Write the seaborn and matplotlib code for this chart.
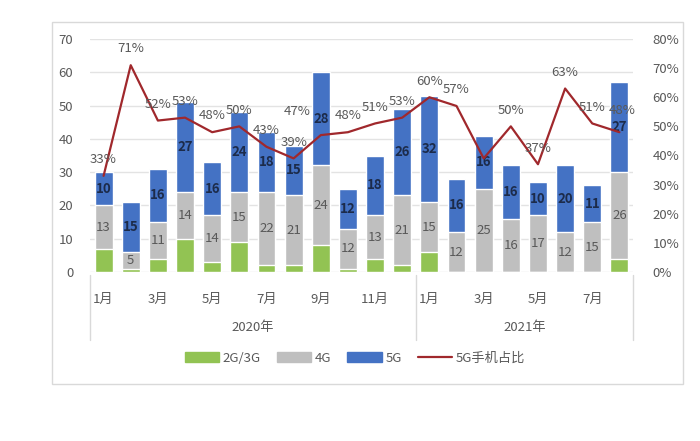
import numpy as np
import pandas as pd
import matplotlib.pyplot as plt
import seaborn as sns
from matplotlib.patches import Rectangle, Patch
from matplotlib.lines import Line2D
from matplotlib.ticker import PercentFormatter

# ---------------------------------------------------------------------------
# Data (millions of handsets shipped)
# ---------------------------------------------------------------------------
months = ["1月", "2月", "3月", "4月", "5月", "6月", "7月", "8月", "9月", "10月", "11月", "12月",
          "1月", "2月", "3月", "4月", "5月", "6月", "7月", "8月"]
years = ["2020年", "2021年"]
g23 = [7, 1, 4, 10, 3, 9, 2, 2, 8, 1, 4, 2, 6, 0, 0, 0, 0, 0, 0, 4]
g4 = [13, 5, 11, 14, 14, 15, 22, 21, 24, 12, 13, 21, 15, 12, 25, 16, 17, 12, 15, 26]
g5 = [10, 15, 16, 27, 16, 24, 18, 15, 28, 12, 18, 26, 32, 16, 16, 16, 10, 20, 11, 27]
share = [33, 71, 52, 53, 48, 50, 43, 39, 47, 48, 51, 53, 60, 57, 39, 50, 37, 63, 51, 48]
hidden_share_labels = [14]   # label not visible in the source

GREEN = "#92c353"
GRAY = "#bfbfbf"
BLUE = "#4472c4"
RED = "#a0282c"
TXT = "#595959"

sns.set_theme(style="white")
plt.rcParams["font.family"] = ["Noto Sans CJK SC", "DejaVu Sans"]

df = pd.DataFrame({
    "pos": [str(i) for i in range(len(months))],
    "g23": g23, "g4": g4, "g5": g5,
})
df["top4"] = df["g23"] + df["g4"]
df["total"] = df["top4"] + df["g5"]
order = list(df["pos"])

fig = plt.figure(figsize=(7, 4.41), dpi=100)
W, H = 700, 441
ax = fig.add_axes([90 / W, 1 - 272 / H, (633 - 90) / W, (272 - 39) / H])

# stacked bars by overdrawing cumulative totals
sns.barplot(data=df, x="pos", y="total", order=order, color=BLUE, width=0.66,
            saturation=1, ax=ax, zorder=2)
sns.barplot(data=df, x="pos", y="top4", order=order, color=GRAY, width=0.66,
            saturation=1, ax=ax, zorder=2)
sns.barplot(data=df, x="pos", y="g23", order=order, color=GREEN, width=0.66,
            saturation=1, ax=ax, zorder=2)

ax.set_xlim(-0.5, len(months) - 0.5)
ax.set_ylim(0, 70)
ax.set_yticks(range(0, 71, 10))
ax.yaxis.grid(True, color="#e3e3e3", lw=1, zorder=0)
ax.set_axisbelow(True)
for s in ax.spines.values():
    s.set_visible(False)
ax.tick_params(axis="y", length=0, labelsize=9.5, labelcolor=TXT, pad=12)
ax.set_xlabel("")
ax.set_ylabel("")
ax.set_xticks(range(len(months)))
ax.set_xticklabels([m if i % 2 == 0 else "" for i, m in enumerate(months)])
ax.tick_params(axis="x", length=0, labelsize=9.5, labelcolor=TXT, pad=15)

for i in range(len(months)):
    ax.text(i, df["top4"][i] + g5[i] / 2, str(g5[i]), ha="center", va="center",
            fontsize=9.5, fontweight="bold", color="#1c2b4a", zorder=4)
    ax.text(i, g23[i] + g4[i] / 2, str(g4[i]), ha="center", va="center",
            fontsize=9.5, color=TXT, zorder=4)

# share line on the right axis
ax2 = ax.twinx()
sns.lineplot(x=np.arange(len(months)), y=np.array(share) / 100, color=RED, lw=1.6, ax=ax2)
ax2.set_ylim(0, 0.8)
ax2.set_yticks(np.arange(0, 0.81, 0.1))
ax2.yaxis.set_major_formatter(PercentFormatter(1.0, decimals=0))
ax2.tick_params(axis="y", length=0, labelsize=9.5, labelcolor=TXT, pad=14)
for s in ax2.spines.values():
    s.set_visible(False)
ax2.grid(False)
label_offsets = {8: (-17, 12), 19: (2, 11)}   # nudge labels that collide with bar values
for i, v in enumerate(share):
    if i in hidden_share_labels:
        continue
    ax2.annotate(f"{v}%", (i, v / 100), xytext=label_offsets.get(i, (0, 7)),
                 textcoords="offset points", ha="center", va="bottom",
                 fontsize=9.5, color=TXT)

# category axis separators and year labels
trans = ax.get_xaxis_transform()
for xb in [-0.5, 11.5, 19.5]:
    ax.plot([xb, xb], [-0.013, -0.29], transform=trans, color="#d9d9d9", lw=1, clip_on=False)
ax.text(5.5, -0.24, years[0], transform=trans, ha="center", va="center", fontsize=9.5, color=TXT)
ax.text(15.5, -0.24, years[1], transform=trans, ha="center", va="center", fontsize=9.5, color=TXT)

# legend
handles = [Patch(color=GREEN), Patch(color=GRAY), Patch(color=BLUE),
           Line2D([], [], color=RED, lw=1.6)]
fig.legend(handles, ["2G/3G", "4G", "5G", "5G手机占比"], loc="center",
           bbox_to_anchor=(355 / W, 1 - 358 / H), ncol=4, frameon=False,
           fontsize=9.5, labelcolor=TXT, handlelength=2.6, handleheight=0.7,
           columnspacing=1.2, handletextpad=0.3)

# outer chart frame
fig.patches.append(Rectangle((52 / W, 1 - 384 / H), 631 / W, 362 / H, transform=fig.transFigure,
                             fill=False, edgecolor="#d9d9d9", lw=1))

fig.savefig("out.png", dpi=100)
